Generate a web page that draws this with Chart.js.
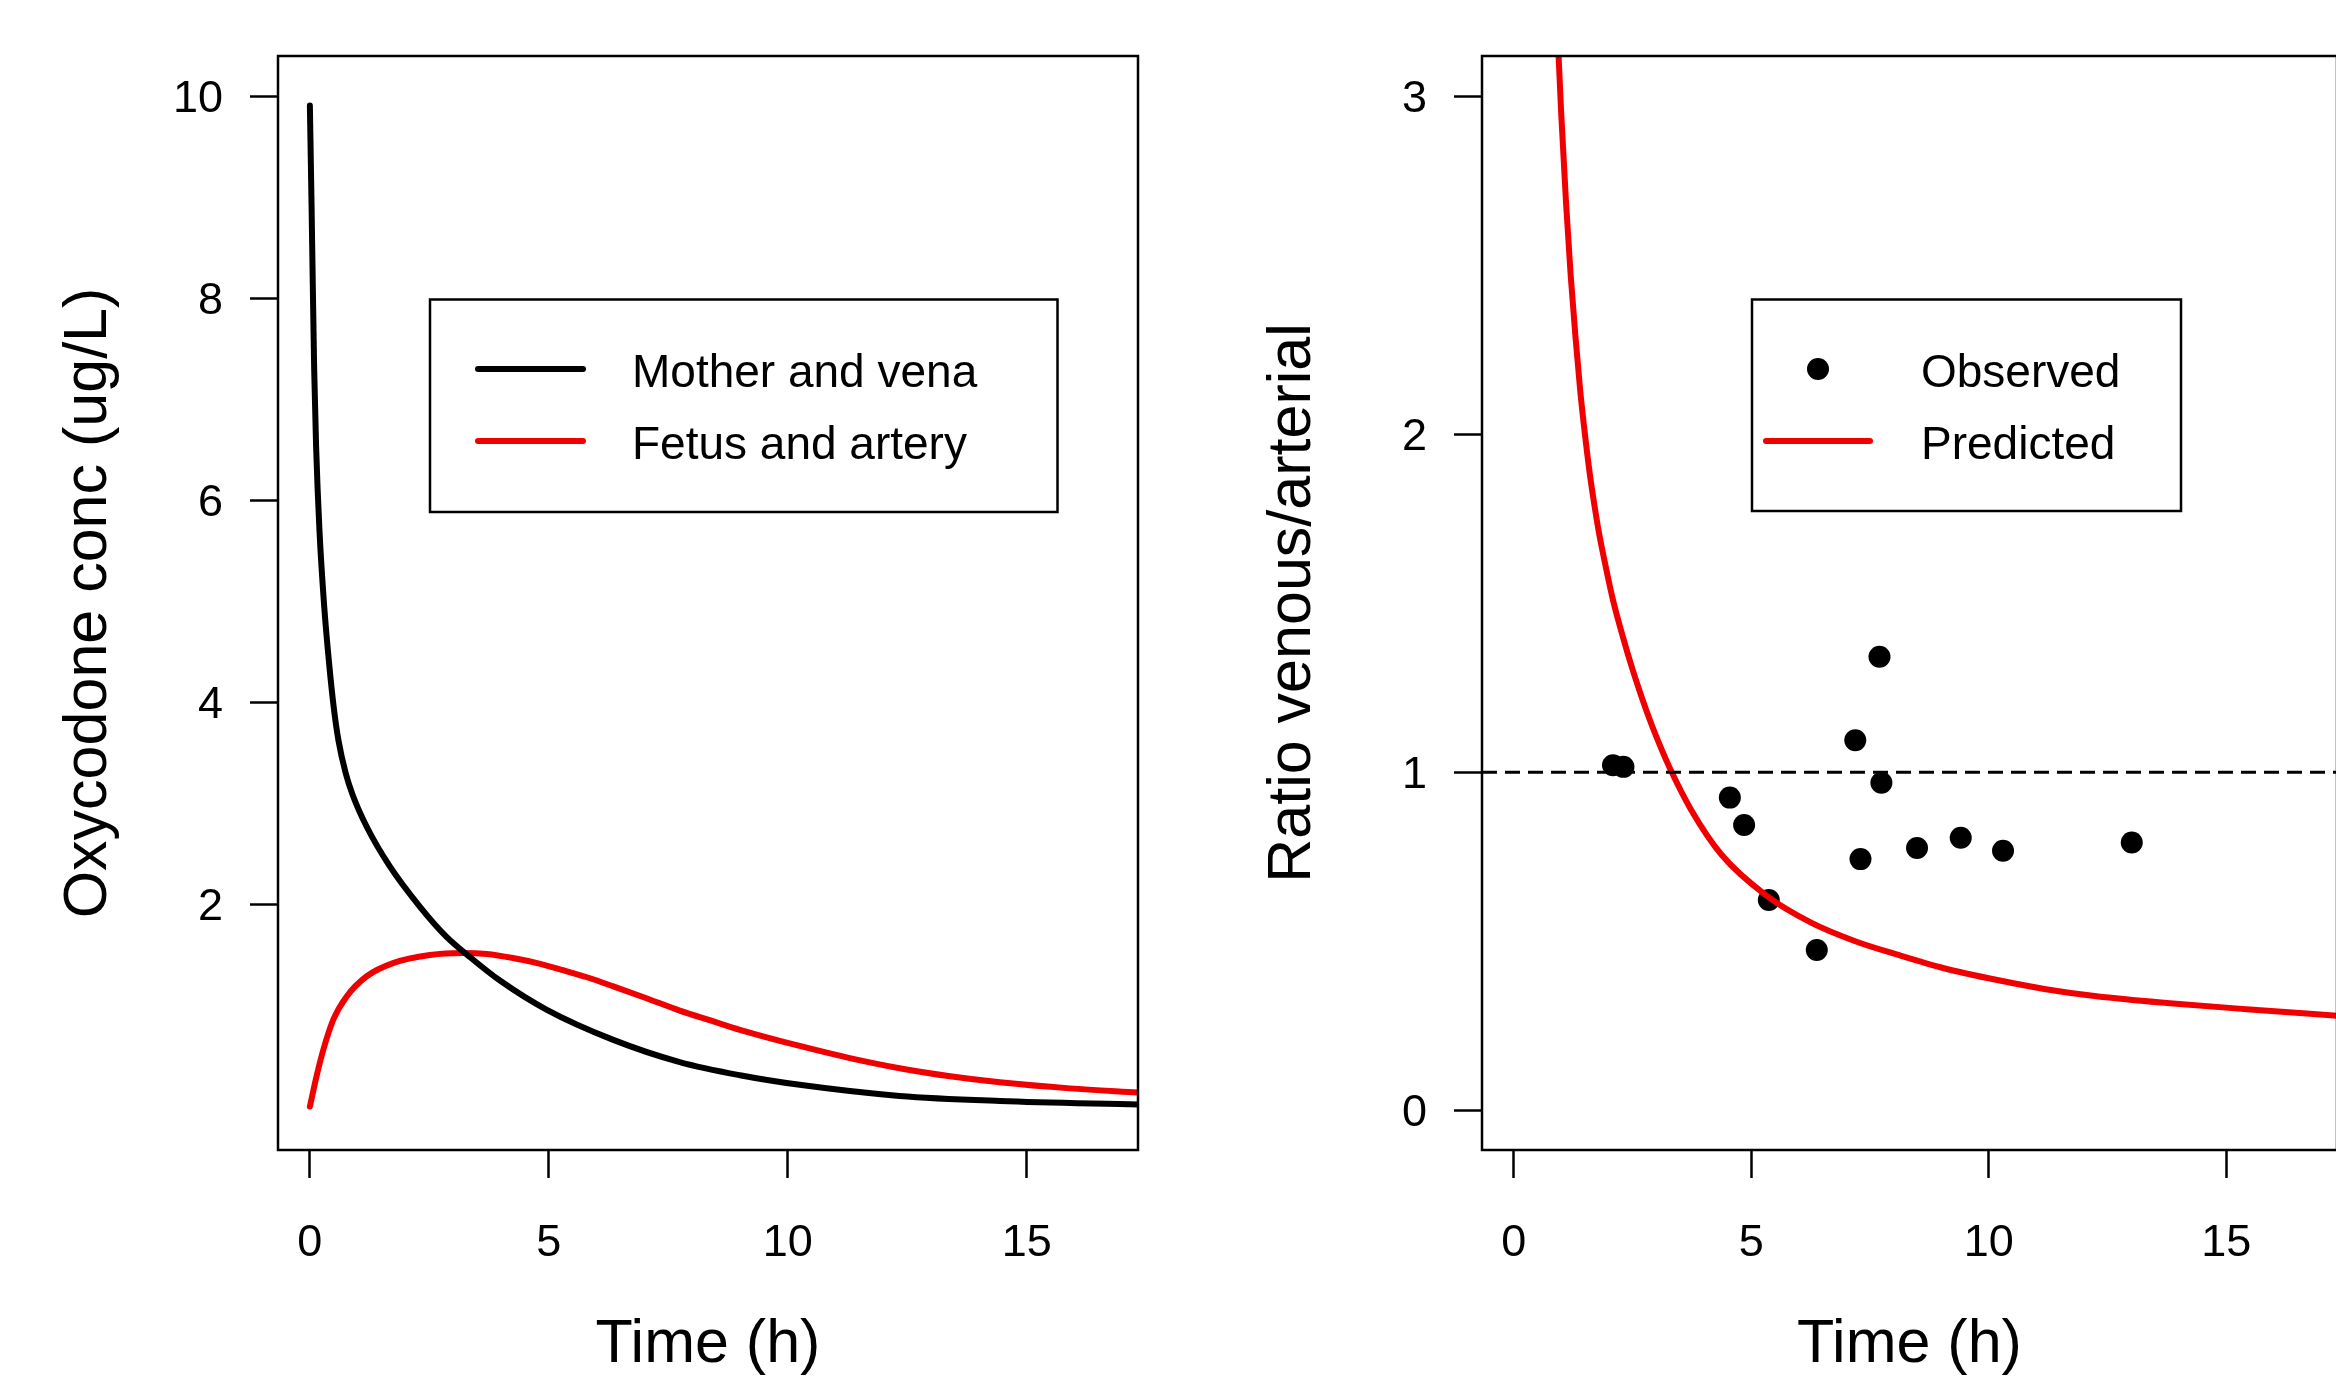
<!DOCTYPE html>
<html><head><meta charset="utf-8">
<script src="https://cdn.jsdelivr.net/npm/chart.js@4.4.1/dist/chart.umd.min.js"></script>
<style>
html,body{margin:0;padding:0;background:#fff;overflow:hidden;width:2336px;height:1376px;}
canvas{position:absolute;top:0;}
#c1{left:0;} #c2{left:1168px;}
</style></head><body>
<canvas id="c1" width="1168" height="1376"></canvas>
<canvas id="c2" width="1180" height="1376"></canvas>
<script>
// ---------- data ----------
const xTicks = [0, 5, 10, 15];
const yTicksLeft = [2, 4, 6, 8, 10];
const yTicksRight = [0, 1, 2, 3];

const timeMother = [0, 0.035, 0.06, 0.09, 0.13, 0.2, 0.3, 0.4, 0.5, 0.6, 0.75, 0.9, 1.19, 1.67, 2.3, 2.86, 3.35, 3.97, 4.95, 6.35, 7.74, 9.0, 10.25, 12.34, 14.44, 17.33];
const concMother = [9.91, 8.93, 8.17, 7.30, 6.54, 5.71, 4.95, 4.40, 3.95, 3.62, 3.30, 3.08, 2.77, 2.38, 1.98, 1.68, 1.48, 1.25, 0.96, 0.66, 0.44, 0.31, 0.215, 0.105, 0.055, 0.02];

const timeFetus = [0, 0.14, 0.28, 0.49, 0.77, 1.19, 1.74, 2.51, 3.21, 3.7, 4.25, 4.8, 5.3, 5.8, 6.35, 7.0, 7.74, 8.4, 9.0, 10.25, 11.3, 12.34, 13.4, 14.44, 15.9, 17.33];
const concFetus = [0.0, 0.30, 0.56, 0.86, 1.09, 1.29, 1.42, 1.50, 1.52, 1.51, 1.47, 1.415, 1.35, 1.28, 1.19, 1.08, 0.95, 0.85, 0.76, 0.60, 0.48, 0.38, 0.30, 0.24, 0.18, 0.14];

const timeObs = [2.09, 2.31, 4.55, 4.85, 5.37, 6.38, 7.19, 7.70, 7.74, 7.30, 8.49, 9.41, 10.30, 13.01];
const ratioObs = [1.021, 1.016, 0.925, 0.844, 0.622, 0.474, 1.095, 1.342, 0.969, 0.743, 0.776, 0.806, 0.768, 0.792];

const timePred = [0.8, 0.9, 1.0, 1.1, 1.2, 1.3, 1.4, 1.5, 1.6, 1.7, 1.8, 1.95, 2.09, 2.3, 2.5, 2.7, 2.9, 3.1, 3.31, 3.73, 4.38, 5.32, 6.26, 7.19, 8.08, 9.06, 10.18, 11.2, 12.27, 13.75, 15.5, 17.4];
const ratioPred = [3.63, 3.26, 2.95, 2.69, 2.47, 2.29, 2.13, 2.00, 1.885, 1.79, 1.705, 1.60, 1.51, 1.40, 1.305, 1.22, 1.142, 1.072, 1.005, 0.89, 0.755, 0.635, 0.555, 0.50, 0.46, 0.42, 0.385, 0.358, 0.337, 0.317, 0.298, 0.279];

const refRatio = 1;

// ---------- helpers ----------
const FONT = "'Liberation Sans', Arial, Helvetica, sans-serif";
const RED = '#f00000';
const pts = (xs, ys) => xs.map((x, i) => ({x: x, y: ys[i]}));

const boxPlugin = {
  id: 'rbox',
  afterDatasetsDraw(chart) {
    const {ctx, chartArea: a} = chart;
    ctx.save();
    ctx.strokeStyle = '#000';
    ctx.lineWidth = 2.5;
    ctx.strokeRect(a.left, a.top, a.right - a.left, a.bottom - a.top);
    ctx.restore();
  }
};

const legendPlugin = {
  id: 'rlegend',
  afterDraw(chart, args, o) {
    if (!o || !o.box) return;
    const ctx = chart.ctx;
    ctx.save();
    ctx.strokeStyle = '#000';
    ctx.lineWidth = 2.5;
    ctx.strokeRect(o.box[0], o.box[1], o.box[2] - o.box[0], o.box[3] - o.box[1]);
    o.items.forEach(it => {
      if (it.type === 'line') {
        ctx.beginPath();
        ctx.strokeStyle = it.color;
        ctx.lineWidth = 6;
        ctx.lineCap = 'round';
        ctx.moveTo(it.x0, it.y);
        ctx.lineTo(it.x1, it.y);
        ctx.stroke();
      } else {
        ctx.beginPath();
        ctx.fillStyle = it.color;
        ctx.arc(it.cx, it.y, 11, 0, Math.PI * 2);
        ctx.fill();
      }
      ctx.fillStyle = '#000';
      ctx.font = '46px ' + FONT;
      ctx.textAlign = 'left';
      ctx.textBaseline = 'middle';
      ctx.fillText(it.label, o.textX, it.y + 5);
    });
    ctx.restore();
  }
};

function xScale() {
  return {
    type: 'linear', min: -0.667, max: 17.33, bounds: 'data',
    afterBuildTicks: s => { s.ticks = xTicks.map(v => ({value: v})); },
    afterFit: s => { s.height = 226; },
    grid: {display: true, drawOnChartArea: false, drawTicks: true, tickLength: 28, tickWidth: 2.5, tickColor: '#000'},
    border: {display: false},
    ticks: {color: '#000', font: {family: FONT, size: 45}, padding: 39, maxRotation: 0, autoSkip: false},
    title: {display: true, text: 'Time (h)', color: '#000', font: {family: FONT, size: 61, lineHeight: 1}, padding: {top: 0, bottom: 0}}
  };
}
function yScale(min, max, tickVals, width, title, titlePad) {
  return {
    type: 'linear', min: min, max: max, bounds: 'data',
    afterBuildTicks: s => { s.ticks = tickVals.map(v => ({value: v})); },
    afterFit: s => { s.width = width; },
    grid: {display: true, drawOnChartArea: false, drawTicks: true, tickLength: 28, tickWidth: 2.5, tickColor: '#000'},
    border: {display: false},
    ticks: {color: '#000', font: {family: FONT, size: 45}, padding: 27, labelOffset: 3, autoSkip: false},
    title: {display: true, text: title, color: '#000', font: {family: FONT, size: 61, lineHeight: 1}, padding: {top: titlePad, bottom: 0}}
  };
}
const common = {
  responsive: false, animation: false, devicePixelRatio: 1,
  plugins: {legend: {display: false}, tooltip: {enabled: false}}
};

// ---------- left chart ----------
new Chart(document.getElementById('c1'), {
  type: 'scatter',
  data: {datasets: [
    {label: 'Mother and vena', data: pts(timeMother, concMother), showLine: true, borderColor: '#000', borderWidth: 6, pointRadius: 0, cubicInterpolationMode: 'monotone', borderCapStyle: 'round', clip: 0},
    {label: 'Fetus and artery', data: pts(timeFetus, concFetus), showLine: true, borderColor: RED, borderWidth: 6, pointRadius: 0, cubicInterpolationMode: 'monotone', borderCapStyle: 'round', clip: 0}
  ]},
  options: Object.assign({}, common, {
    layout: {padding: {top: 56, right: 30, bottom: 0, left: 0}},
    scales: {x: xScale(), y: yScale(-0.43, 10.40, yTicksLeft, 278, 'Oxycodone conc (ug/L)', 59)},
    plugins: Object.assign({}, common.plugins, {
      rlegend: {box: [430, 299.5, 1057.5, 512], textX: 632, items: [
        {type: 'line', color: '#000', x0: 478, x1: 583, y: 369, label: 'Mother and vena'},
        {type: 'line', color: RED, x0: 478, x1: 583, y: 441, label: 'Fetus and artery'}
      ]}
    })
  }),
  plugins: [boxPlugin, legendPlugin]
});

// ---------- right chart ----------
new Chart(document.getElementById('c2'), {
  type: 'scatter',
  data: {datasets: [
    {label: 'ref', data: [{x: -0.667, y: refRatio}, {x: 17.33, y: refRatio}], showLine: true, borderColor: '#000', borderWidth: 3, borderDash: [15, 8], pointRadius: 0, clip: 0},
    {label: 'Predicted', data: pts(timePred, ratioPred), showLine: true, borderColor: RED, borderWidth: 6, pointRadius: 0, cubicInterpolationMode: 'monotone', borderCapStyle: 'round', clip: 0},
    {label: 'Observed', data: pts(timeObs, ratioObs), showLine: false, pointRadius: 11, pointBackgroundColor: '#000', pointBorderWidth: 0, pointBorderColor: '#000'}
  ]},
  options: Object.assign({}, common, {
    layout: {padding: {top: 56, right: 6, bottom: 0, left: 0}},
    scales: {x: xScale(), y: yScale(-0.118, 3.12, yTicksRight, 314, 'Ratio venous/arterial', 95)},
    plugins: Object.assign({}, common.plugins, {
      rlegend: {box: [584, 299.5, 1013, 511], textX: 753, items: [
        {type: 'point', color: '#000', cx: 650, y: 369, label: 'Observed'},
        {type: 'line', color: RED, x0: 598, x1: 702, y: 441, label: 'Predicted'}
      ]}
    })
  }),
  plugins: [boxPlugin, legendPlugin]
});
</script>
</body></html>
